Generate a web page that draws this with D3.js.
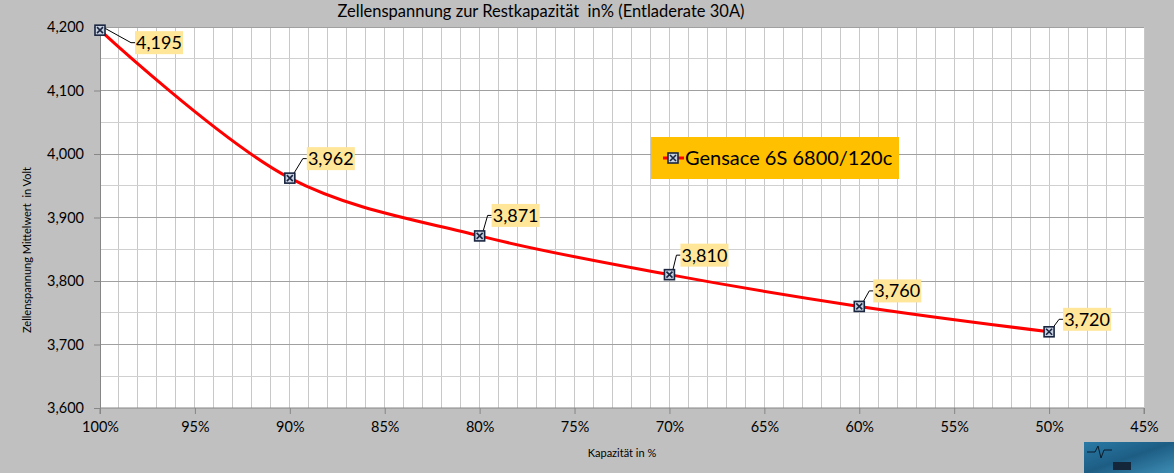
<!DOCTYPE html>
<html>
<head>
<meta charset="utf-8">
<script src="https://cdn.jsdelivr.net/npm/d3@7"></script>
<style>
  body { margin: 0; background: #c0c0c0; }
  svg { display: block; font-family: Lato, "Open Sans", sans-serif; }
</style>
</head>
<body>
<div id="chart"></div>
<script>
// data
const capacity = [100, 90, 80, 70, 60, 50];
const voltage = [4.195, 3.962, 3.871, 3.810, 3.760, 3.720];
const seriesName = "Gensace 6S 6800/120c";
const xTicks = [100, 95, 90, 85, 80, 75, 70, 65, 60, 55, 50, 45];
const yTicks = [3.6, 3.7, 3.8, 3.9, 4.0, 4.1, 4.2];

// label box offsets from each point (layout only)
const labelOffset = [[35, 1], [17, -31], [12, -32], [11, -31], [14, -27], [14, -24]];

const width = 1174, height = 473;
const de = d3.formatLocale({decimal: ",", thousands: ".", grouping: [3], currency: ["", "€"]});
const fmt = de.format(".3f");

const svg = d3.select('#chart').append('svg')
  .attr('width', width).attr('height', height);

svg.append('rect').attr('width', width).attr('height', height).attr('fill', '#c0c0c0');

const x = d3.scaleLinear().domain([100, 45]).range([100, 1144]);
const y = d3.scaleLinear().domain([3.6, 4.2]).range([408, 27]);

// plot area
svg.append('rect')
  .attr('x', x(100)).attr('y', y(4.2))
  .attr('width', x(45) - x(100)).attr('height', y(3.6) - y(4.2))
  .attr('fill', '#fff');

// minor vertical grid every 1%
const grid = svg.append('g').attr('shape-rendering', 'crispEdges');
grid.selectAll('.vg').data(d3.range(99, 44, -1)).enter().append('line')
  .attr('x1', d => x(d)).attr('x2', d => x(d))
  .attr('y1', y(4.2)).attr('y2', y(3.6))
  .attr('stroke', '#c8c8c8').attr('stroke-width', 1);

// horizontal grid, minor every 0.05
grid.selectAll('.hm').data(d3.range(3.65, 4.2, 0.1)).enter().append('line')
  .attr('x1', x(100)).attr('x2', x(45))
  .attr('y1', d => y(d)).attr('y2', d => y(d))
  .attr('stroke', '#d0d0d0');
grid.selectAll('.hM').data(yTicks.slice(1)).enter().append('line')
  .attr('x1', x(100)).attr('x2', x(45))
  .attr('y1', d => y(d)).attr('y2', d => y(d))
  .attr('stroke', '#a0a0a0');

// axes
const xAxis = svg.append('g')
  .attr('transform', `translate(0,${y(3.6)})`)
  .call(d3.axisBottom(x).tickValues(xTicks).tickSize(6).tickPadding(8)
    .tickFormat(d => d + '%'));
const yAxis = svg.append('g')
  .attr('transform', `translate(${x(100)},0)`)
  .call(d3.axisLeft(y).tickValues(yTicks).tickSize(6).tickPadding(10)
    .tickFormat(fmt));
[xAxis, yAxis].forEach(a => {
  a.select('.domain').attr('stroke', '#868686');
  a.selectAll('.tick line').attr('stroke', '#868686');
  a.selectAll('text').attr('fill', '#000').attr('font-size', 14.5)
    .attr('font-family', 'Lato, "Open Sans", sans-serif');
});
xAxis.selectAll('.domain').attr('d', `M${x(100)},6V0H${x(45)}V6`);

// titles
svg.append('text').attr('x', 541).attr('y', 17).attr('text-anchor', 'middle')
  .style('white-space', 'pre')
  .attr('font-size', 16.5).text('Zellenspannung zur Restkapazität  in% (Entladerate 30A)');
svg.append('text').attr('transform', 'translate(31,250) rotate(-90)')
  .attr('text-anchor', 'middle').attr('font-size', 11)
  .text('Zellenspannung Mittelwert  in Volt').style('white-space', 'pre');
svg.append('text').attr('x', 622).attr('y', 457).attr('text-anchor', 'middle')
  .attr('font-size', 11).text('Kapazität in %');

// line
const pts = capacity.map((c, i) => [c, voltage[i]]);
svg.append('path').datum(pts)
  .attr('fill', 'none').attr('stroke', '#ff0000').attr('stroke-width', 3)
  .attr('d', d3.line().x(d => x(d[0])).y(d => y(d[1])).curve(d3.curveCatmullRom.alpha(0.5)));

function marker(g, cx, cy) {
  g.append('rect').attr('x', cx - 5).attr('y', cy - 5).attr('width', 10).attr('height', 10)
    .attr('fill', '#c9d2e3').attr('stroke', '#1a2540').attr('stroke-width', 1.6);
  g.append('path').attr('d', `M${cx - 3},${cy - 3}L${cx + 3},${cy + 3}M${cx + 3},${cy - 3}L${cx - 3},${cy + 3}`)
    .attr('stroke', '#1a2540').attr('stroke-width', 1.6);
}

// data labels
const lab = svg.append('g');
pts.forEach((p, i) => {
  const px = x(p[0]), py = y(p[1]);
  const bx = px + labelOffset[i][0], by = py + labelOffset[i][1];
  const bw = 48, bh = 23;
  lab.append('path')
    .attr('d', `M${px + 3},${py - 3}L${bx - 4},${by + bh / 2}H${bx}`)
    .attr('fill', 'none').attr('stroke', '#000').attr('stroke-width', 1);
  lab.append('rect').attr('x', bx).attr('y', by).attr('width', bw).attr('height', bh)
    .attr('fill', '#ffe699');
  lab.append('text').attr('x', bx + bw / 2).attr('y', by + 18).attr('text-anchor', 'middle')
    .attr('font-size', 18).text(fmt(p[1]));
});
const mk = svg.append('g');
pts.forEach(p => marker(mk, x(p[0]), y(p[1])));

// legend
const lg = svg.append('g');
lg.append('rect').attr('x', 651).attr('y', 137).attr('width', 248).attr('height', 42).attr('fill', '#ffc000');
lg.append('line').attr('x1', 663).attr('x2', 684).attr('y1', 158).attr('y2', 158)
  .attr('stroke', '#ff0000').attr('stroke-width', 3);
marker(lg, 673, 158);
lg.append('text').attr('x', 685).attr('y', 165).attr('font-size', 20).text(seriesName);

// corner picture
const defs = svg.append('defs');
const grad = defs.append('linearGradient').attr('id', 'pic').attr('x1', 0).attr('x2', 1).attr('y1', 0).attr('y2', 1);
grad.append('stop').attr('offset', 0).attr('stop-color', '#2a7aa6');
grad.append('stop').attr('offset', 0.5).attr('stop-color', '#1d5d84');
grad.append('stop').attr('offset', 1).attr('stop-color', '#3e8db4');
svg.append('rect').attr('x', 1084).attr('y', 442).attr('width', 90).attr('height', 31).attr('fill', 'url(#pic)');
svg.append('path').attr('d', 'M1087,452H1095L1098,446L1101,458L1104,450H1112')
  .attr('fill', 'none').attr('stroke', '#0b1b2a').attr('stroke-width', 1);
svg.append('rect').attr('x', 1113).attr('y', 462).attr('width', 18).attr('height', 8).attr('fill', '#13263a');
</script>
</body>
</html>
